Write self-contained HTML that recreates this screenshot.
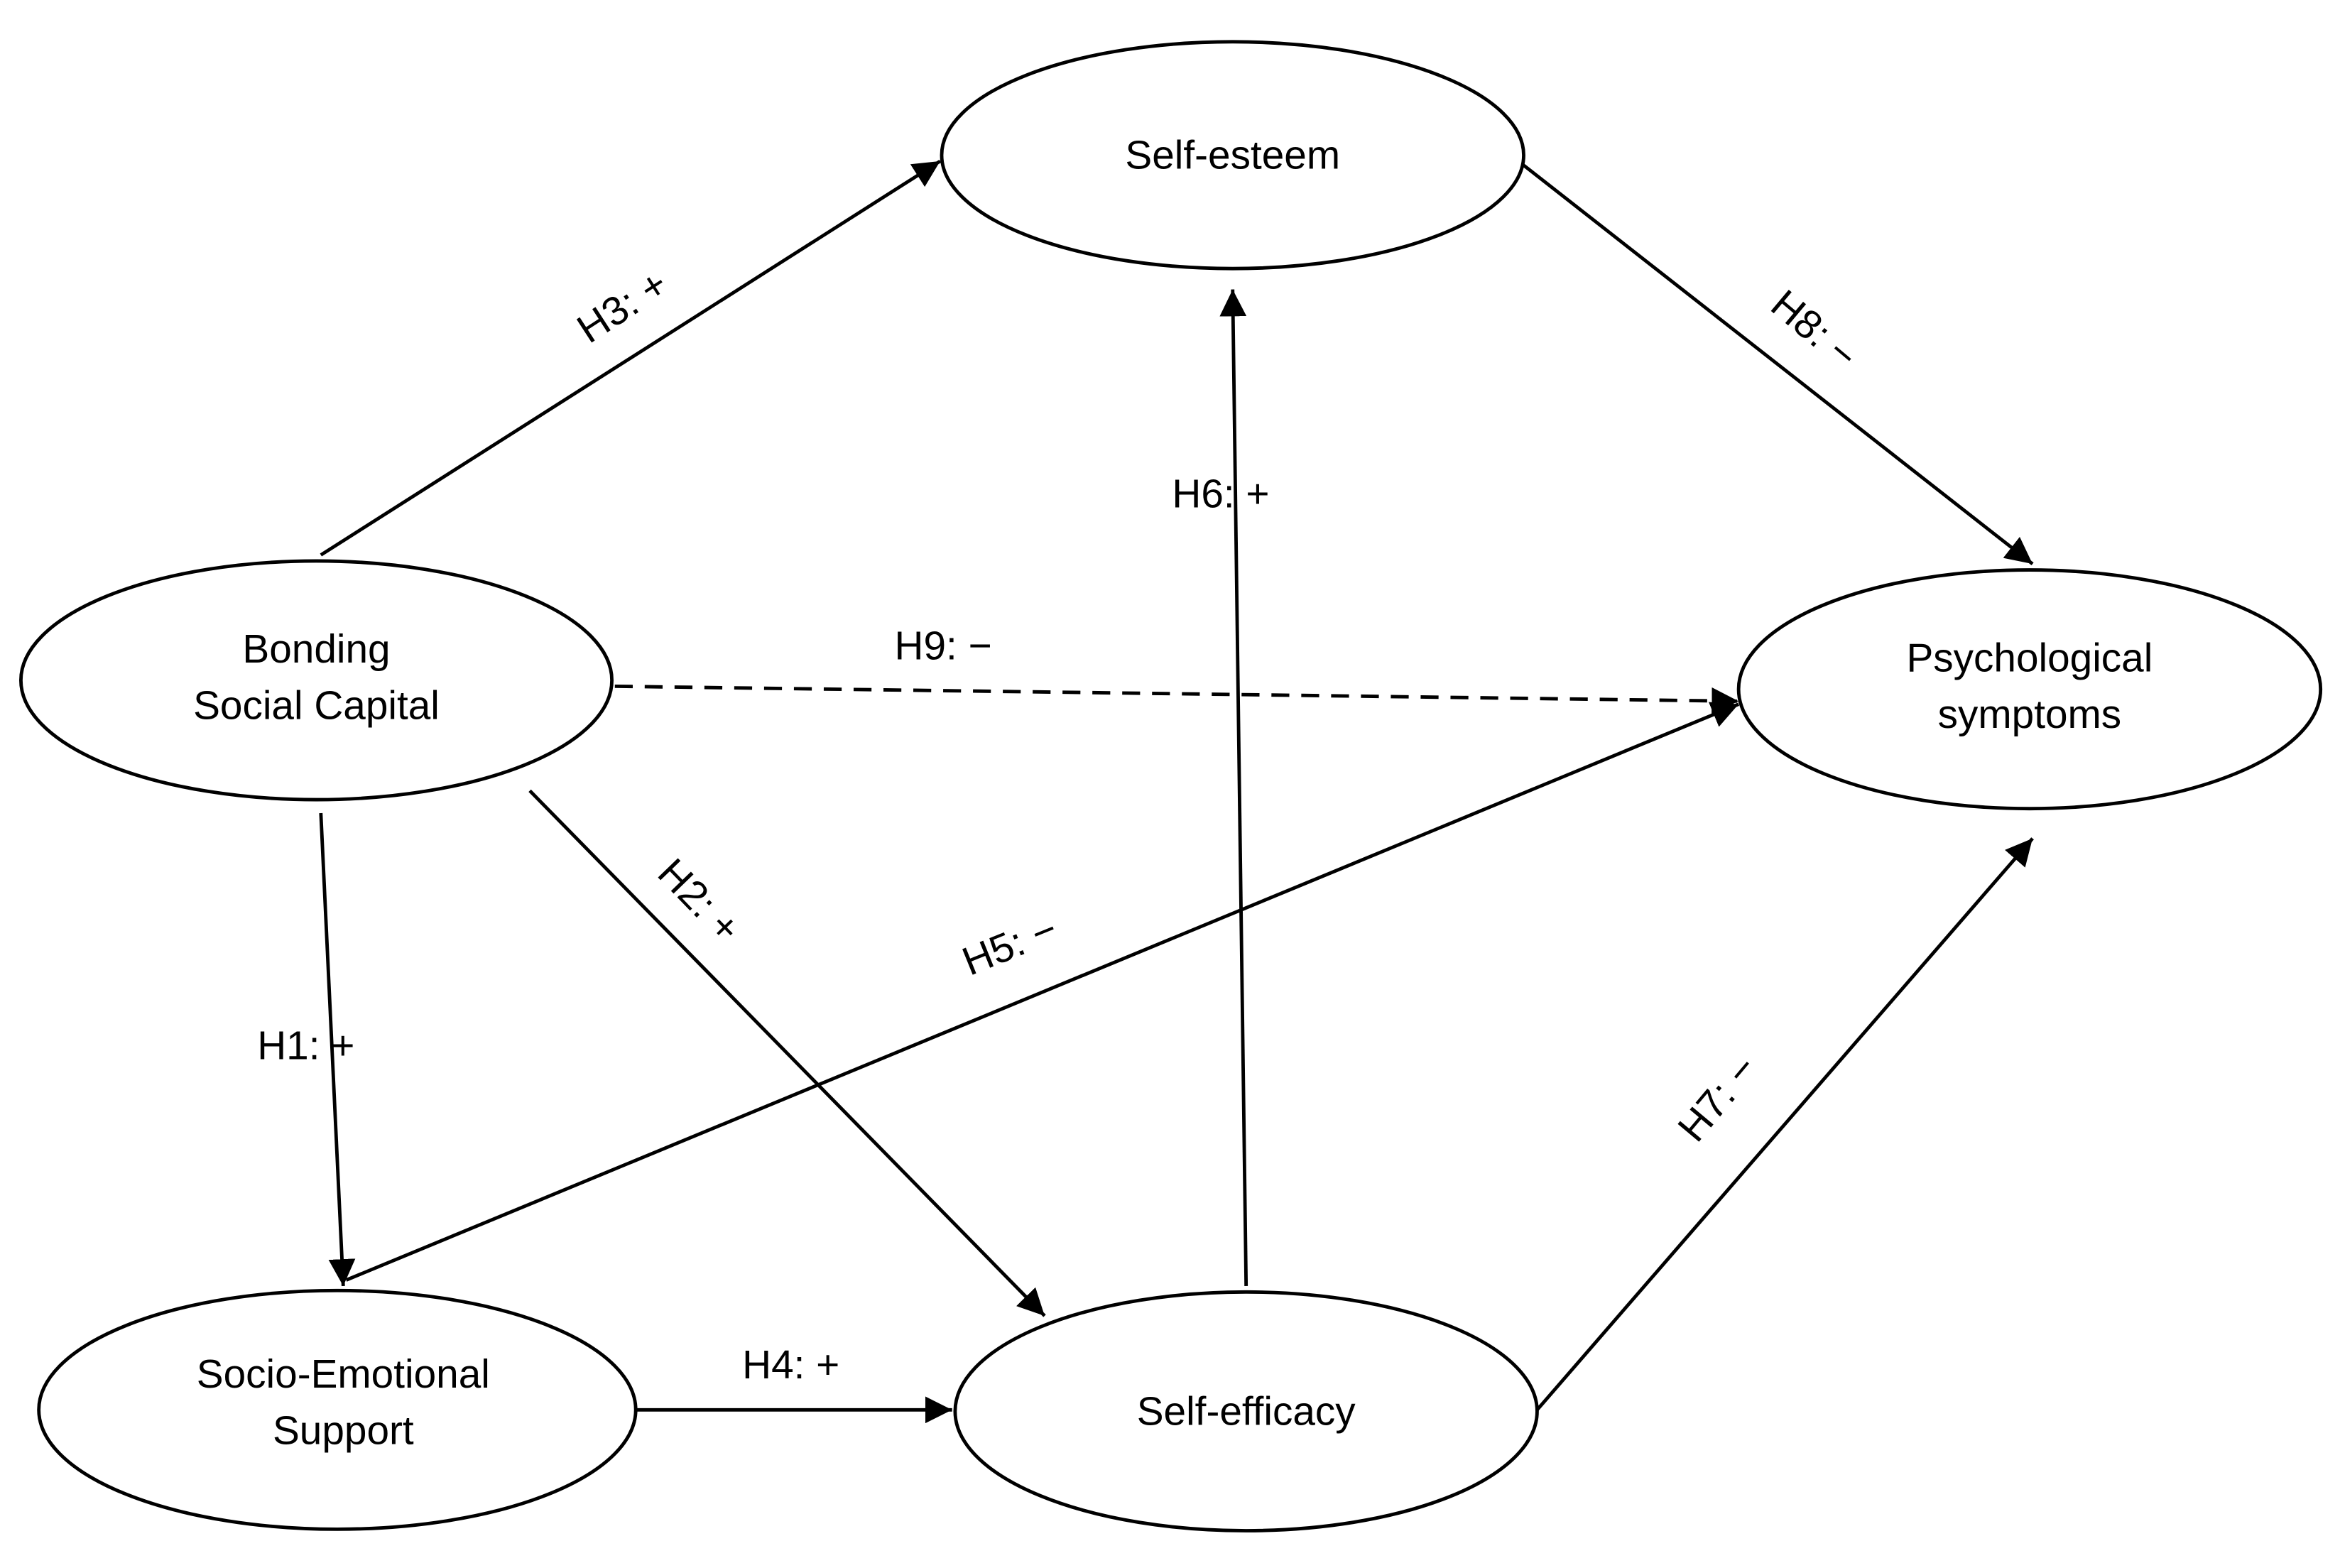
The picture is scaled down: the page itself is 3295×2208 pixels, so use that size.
<!DOCTYPE html>
<html><head><meta charset="utf-8"><style>html,body{margin:0;padding:0;background:#fff;}svg{display:block}</style></head>
<body>
<svg width="3295" height="2208" viewBox="0 0 1568 1051" preserveAspectRatio="none" xmlns="http://www.w3.org/2000/svg" font-family="Liberation Sans, Arial, sans-serif" font-size="27" fill="#000">
<defs><marker id="a" viewBox="0 0 10 10" refX="10" refY="5" markerWidth="9" markerHeight="9" markerUnits="userSpaceOnUse" orient="auto"><path d="M0,0 L10,5 L0,10 z" fill="#000"/></marker>
<marker id="b" viewBox="0 0 10 10" refX="10" refY="5" markerWidth="18" markerHeight="18" markerUnits="userSpaceOnUse" orient="auto"><path d="M0,0 L10,5 L0,10 z" fill="#000"/></marker></defs>
<g fill="none" stroke="#000" stroke-width="2.3">
<ellipse cx="826" cy="104" rx="195" ry="76"/>
<ellipse cx="212" cy="456" rx="198" ry="80"/>
<ellipse cx="1360" cy="462" rx="195" ry="80"/>
<ellipse cx="226" cy="945" rx="200" ry="80"/>
<ellipse cx="835" cy="946" rx="195" ry="80"/>
<line x1="215" y1="372" x2="630" y2="108" marker-end="url(#b)"/>
<line x1="1020" y1="110" x2="1362" y2="378" marker-end="url(#b)"/>
<line x1="835" y1="862" x2="826" y2="194" marker-end="url(#b)"/>
<line x1="412" y1="460" x2="1165" y2="470" stroke-dasharray="12,8" marker-end="url(#b)"/>
<line x1="232" y1="858" x2="1165" y2="472" marker-end="url(#b)"/>
<line x1="355" y1="530" x2="700" y2="882" marker-end="url(#b)"/>
<line x1="215" y1="545" x2="230" y2="862" marker-end="url(#b)"/>
<line x1="425" y1="945" x2="638" y2="945" marker-end="url(#b)"/>
<line x1="1030" y1="945" x2="1362" y2="562" marker-end="url(#b)"/>
</g>
<g text-anchor="middle">
<text x="826" y="113">Self-esteem</text>
<text x="212" y="444">Bonding</text><text x="212" y="482">Social Capital</text>
<text x="1360" y="450">Psychological</text><text x="1360" y="488">symptoms</text>
<text x="230" y="930">Socio-Emotional</text><text x="230" y="968">Support</text>
<text x="835" y="955">Self-efficacy</text>
<text x="818" y="340">H6: +</text>
<text x="632" y="442">H9: −</text>
<text x="205" y="710">H1: +</text>
<text x="530" y="924">H4: +</text>
<text transform="translate(422,213) rotate(-33)">H3: +</text>
<text transform="translate(1210,228) rotate(40)">H8: −</text>
<text transform="translate(462,610) rotate(46)">H2: +</text>
<text transform="translate(680,642) rotate(-22)">H5: −</text>
<text transform="translate(1158,742) rotate(-50)">H7: −</text>
</g>
</svg>
</body></html>
